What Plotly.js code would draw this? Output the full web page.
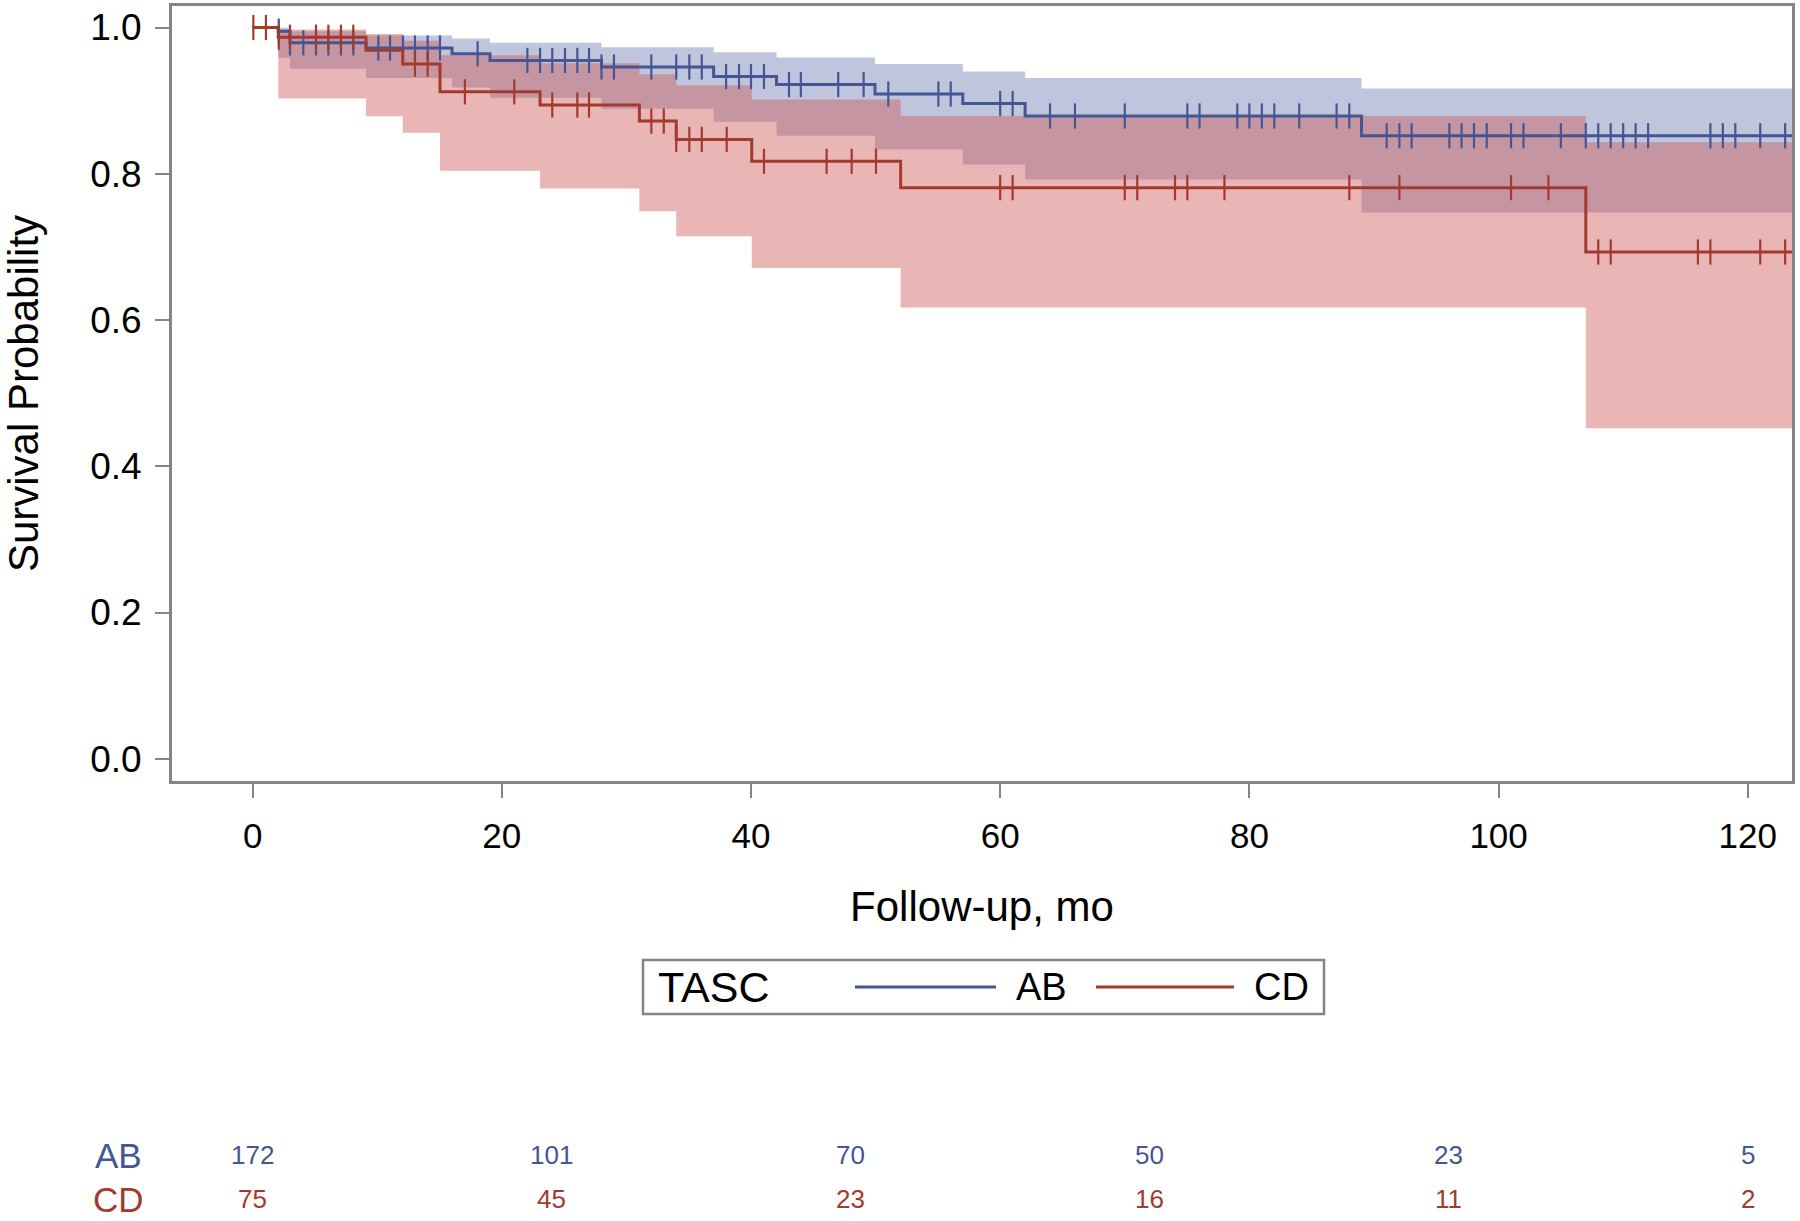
<!DOCTYPE html>
<html>
<head>
<meta charset="utf-8">
<script src="https://cdn.plot.ly/plotly-3.0.1.min.js"></script>
<style>html,body{margin:0;padding:0;background:#ffffff;}</style>
</head>
<body>
<div id="chart" style="width:1800px;height:1221px;"></div>
<script>
// ---------------- data ----------------
// TASC A/B : Kaplan-Meier step function (time = start of each step, months)
const abTime = [0, 2.06, 3.0, 9.1, 16.0, 19.05, 28.0, 37.0, 42.05, 49.95, 57.0, 62.0, 89.0, 124];
const abSurv = [1.0, 0.995, 0.979, 0.972, 0.964, 0.955, 0.946, 0.933, 0.922, 0.909, 0.896, 0.879, 0.852, 0.852];
const abLo   = [1.0, 0.9585, 0.9435, 0.931, 0.918, 0.904, 0.889, 0.871, 0.852, 0.833, 0.8126, 0.792, 0.747, 0.747];
const abHi   = [1.0, 0.9995, 0.995, 0.989, 0.985, 0.979, 0.973, 0.966, 0.959, 0.950, 0.940, 0.931, 0.9166, 0.9166];
const abCensor = [2.1, 3.0, 4.07, 5.09, 6.08, 7.09, 8.08, 10.09, 11.03, 12.07, 13.03, 14.05, 15.04, 18.06,
  22.05, 23.07, 24.05, 25.07, 26.06, 27.0, 28.0, 29.0, 32.0, 34.0, 35.05, 36.05, 38.0, 39.04, 40.0, 41.04,
  43.05, 44.0, 47.0, 49.04, 51.02, 55.04, 56.03, 60.0, 61.0, 64.0, 66.0, 70.0, 75.02, 76.0, 79.03, 80.0,
  81.0, 82.0, 84.0, 87.0, 88.02, 91.02, 92.04, 93.02, 96.05, 97.03, 98.03, 99.05, 101, 102, 105, 107, 108,
  109, 110, 111, 112, 117, 118, 119, 121, 123];

// TASC C/D
const cdTime = [0, 2.06, 9.1, 12.05, 15.04, 23.07, 31.04, 34.0, 40.06, 52.01, 107.0, 124];
const cdSurv = [1.0, 0.9867, 0.969, 0.950, 0.912, 0.894, 0.872, 0.847, 0.817, 0.781, 0.693, 0.693];
const cdLo   = [1.0, 0.903, 0.8787, 0.856, 0.804, 0.7798, 0.7487, 0.7145, 0.671, 0.617, 0.452, 0.452];
const cdHi   = [1.0, 0.9973, 0.9911, 0.982, 0.962, 0.951, 0.936, 0.921, 0.9015, 0.879, 0.843, 0.843];
const cdCensor = [0.06, 1.07, 2.1, 3.0, 5.09, 6.08, 7.09, 8.08, 13.03, 14.05, 17.04, 21.0, 24.05, 26.06, 27.0,
  32.0, 33.0, 34.0, 35.05, 36.05, 38.05, 41.04, 46.07, 48.08, 50.03, 60.0, 61.0, 70.0, 71.0, 74.03, 75.02,
  78.0, 88.02, 92.04, 101, 104, 108, 109, 116, 117, 121, 123];

// numbers at risk
const riskTimes = [0, 24, 48, 72, 96, 120];
const abRisk = [172, 101, 70, 50, 23, 5];
const cdRisk = [75, 45, 23, 16, 11, 2];

const groupNames = ['AB', 'CD'];
const legendTitle = 'TASC';
const xTitle = 'Follow-up, mo';
const yTitle = 'Survival Probability';
const xTicks = [0, 20, 40, 60, 80, 100, 120];
const yTicks = [0, 0.2, 0.4, 0.6, 0.8, 1.0];

// ---------------- styling ----------------
const FONT = '"Liberation Sans", Arial, sans-serif';
const blueLine = '#445694';
const redLine = '#A23A2E';
const blueFill = 'rgba(111,126,179,0.45)';
const redFill = 'rgba(208,91,91,0.45)';
const frame = '#858585';

function stepAt(times, vals, t) {
  let v = vals[0];
  for (let i = 0; i < times.length; i++) { if (times[i] <= t + 1e-9) v = vals[i]; }
  return v;
}

function band(times, lo, hi, fill) {
  return [
    {x: times, y: lo, type: 'scatter', mode: 'lines', line: {shape: 'hv', width: 0, color: 'rgba(0,0,0,0)'},
     hoverinfo: 'skip', showlegend: false},
    {x: times, y: hi, type: 'scatter', mode: 'lines', fill: 'tonexty', fillcolor: fill,
     line: {shape: 'hv', width: 0, color: 'rgba(0,0,0,0)'}, hoverinfo: 'skip', showlegend: false}
  ];
}
function curve(times, surv, color, name) {
  return {x: times, y: surv, type: 'scatter', mode: 'lines', name: name,
    line: {shape: 'hv', width: 3, color: color}, showlegend: false};
}
function censors(cens, times, surv, color) {
  return {x: cens, y: cens.map(t => stepAt(times, surv, t)), type: 'scatter', mode: 'markers',
    marker: {symbol: 'line-ns', size: 18, color: color, line: {color: color, width: 2.2}},
    showlegend: false, hoverinfo: 'skip'};
}

const data = [].concat(
  band(abTime, abLo, abHi, blueFill),
  band(cdTime, cdLo, cdHi, redFill),
  [curve(abTime, abSurv, blueLine, groupNames[0]),
   censors(abCensor, abTime, abSurv, blueLine),
   curve(cdTime, cdSurv, redLine, groupNames[1]),
   censors(cdCensor, cdTime, cdSurv, redLine)]
);

// plot area: x 172..1792, y 6..781
const plotL = 172, plotR = 1792, plotT = 6, plotB = 781, W = 1800, H = 1221;
const pw = plotR - plotL, ph = plotB - plotT;
const px = fx => (fx - plotL) / pw;
const py = fy => (plotB - fy) / ph;

const annotations = [];
const shapes = [];

// legend box
shapes.push({type: 'rect', xref: 'paper', yref: 'paper', x0: px(643), x1: px(1324), y0: py(1014), y1: py(960),
  line: {color: frame, width: 2.5}, fillcolor: 'rgba(0,0,0,0)'});
annotations.push({xref: 'paper', yref: 'paper', x: px(656), y: py(987), xanchor: 'left', yanchor: 'middle',
  text: legendTitle, showarrow: false, font: {family: FONT, size: 43, color: '#000'}});
shapes.push({type: 'line', xref: 'paper', yref: 'paper', x0: px(855), x1: px(996), y0: py(987), y1: py(987),
  line: {color: blueLine, width: 3}});
annotations.push({xref: 'paper', yref: 'paper', x: px(1014), y: py(987), xanchor: 'left', yanchor: 'middle',
  text: groupNames[0], showarrow: false, font: {family: FONT, size: 38, color: '#000'}});
shapes.push({type: 'line', xref: 'paper', yref: 'paper', x0: px(1096), x1: px(1234), y0: py(987), y1: py(987),
  line: {color: redLine, width: 3}});
annotations.push({xref: 'paper', yref: 'paper', x: px(1252), y: py(987), xanchor: 'left', yanchor: 'middle',
  text: groupNames[1], showarrow: false, font: {family: FONT, size: 38, color: '#000'}});

// at-risk table
const rows = [[groupNames[0], abRisk, blueLine, 1155], [groupNames[1], cdRisk, redLine, 1199]];
rows.forEach(([lab, vals, col, fy]) => {
  annotations.push({xref: 'paper', yref: 'paper', x: px(118), y: py(fy), xanchor: 'center', yanchor: 'middle',
    text: lab, showarrow: false, font: {family: FONT, size: 35, color: col}});
  riskTimes.forEach((t, i) => {
    annotations.push({xref: 'x', yref: 'paper', x: t, y: py(fy), xanchor: 'center', yanchor: 'middle',
      text: String(vals[i]), showarrow: false, font: {family: FONT, size: 26, color: col}});
  });
});

const axisCommon = {
  showline: true, linecolor: frame, linewidth: 3, mirror: true,
  ticks: 'outside', ticklen: 14, tickwidth: 2, tickcolor: frame,
  showgrid: false, zeroline: false
};

const layout = {
  width: W, height: H,
  margin: {l: plotL, r: W - plotR, t: plotT, b: H - plotB, pad: 0},
  paper_bgcolor: '#ffffff', plot_bgcolor: '#ffffff',
  showlegend: false,
  font: {family: FONT, color: '#000'},
  xaxis: Object.assign({}, axisCommon, {
    range: [-6.47, 123.55], tickvals: xTicks, ticktext: xTicks.map(String),
    tickfont: {family: FONT, size: 35, color: '#000'}, ticklabelstandoff: 8,
    title: {text: xTitle, font: {family: FONT, size: 42, color: '#000'}, standoff: 38}
  }),
  yaxis: Object.assign({}, axisCommon, {
    range: [-0.0304, 1.0294], tickvals: yTicks, ticktext: yTicks.map(v => v.toFixed(1)),
    tickfont: {family: FONT, size: 37, color: '#000'}, ticklabelstandoff: 6,
    title: {text: yTitle, font: {family: FONT, size: 42, color: '#000'}, standoff: 42}
  }),
  shapes: shapes,
  annotations: annotations
};

Plotly.newPlot('chart', data, layout, {displayModeBar: false, staticPlot: true});
</script>
</body>
</html>
